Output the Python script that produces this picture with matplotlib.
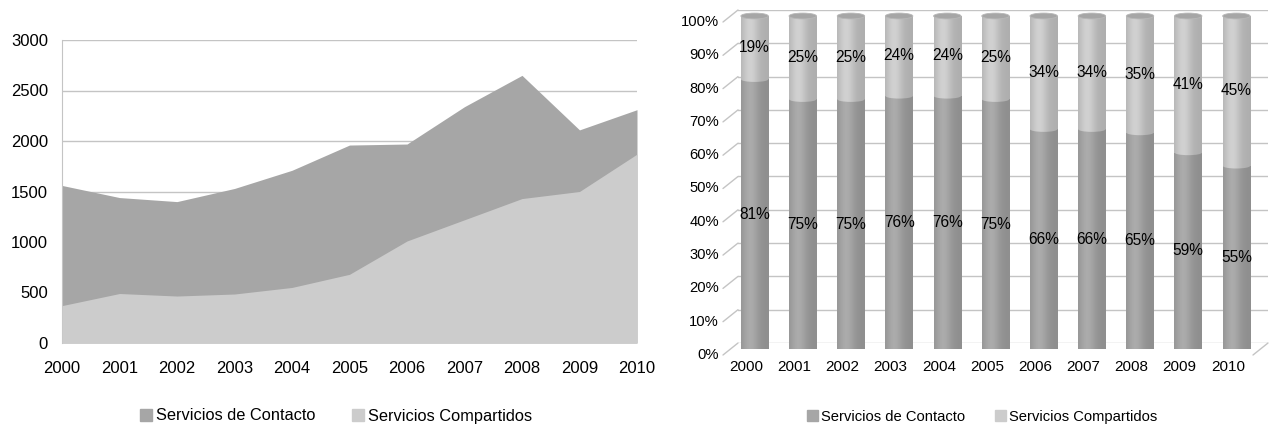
import numpy as np
import matplotlib
matplotlib.use("Agg")
import matplotlib.pyplot as plt
import matplotlib.colors as mcolors
from matplotlib.patches import Ellipse, Patch
from matplotlib.transforms import ScaledTranslation

plt.rcParams['font.family'] = ['Liberation Sans', 'DejaVu Sans']

# ---- data ----
years = ['2000', '2001', '2002', '2003', '2004', '2005',
         '2006', '2007', '2008', '2009', '2010']
contacto = [1560, 1440, 1400, 1530, 1710, 1960, 1970, 2340, 2650, 2110, 2310]
compartidos = [370, 490, 465, 485, 550, 680, 1010, 1220, 1430, 1500, 1870]
pct_contacto = [81, 75, 75, 76, 76, 75, 66, 66, 65, 59, 55]
pct_compartidos = [19, 25, 25, 24, 24, 25, 34, 34, 35, 41, 45]
series_names = ['Servicios de Contacto', 'Servicios Compartidos']

DARK = '#a6a6a6'
LIGHT = '#cccccc'
GRID = '#c4c4c4'

DPI = 100
fig = plt.figure(figsize=(12.7, 4.25), dpi=DPI)
W, H = 1270, 425


def px_axes(left, top, right, bottom):
    return fig.add_axes([left / W, 1 - bottom / H, (right - left) / W, (bottom - top) / H])


# ---- left: overlapping area chart ----
ax1 = px_axes(62, 40, 637, 343)
x = np.arange(len(years))
ax1.fill_between(x, 0, contacto, color=DARK, lw=0, zorder=2)
ax1.fill_between(x, 0, compartidos, color=LIGHT, lw=0, zorder=3)
ax1.set_xlim(0, len(years) - 1)
ax1.set_ylim(0, 3000)
ax1.set_yticks(np.arange(0, 3001, 500))
ax1.set_xticks(x)
ax1.set_xticklabels(years)
ax1.grid(axis='y', color=GRID, lw=1, zorder=0)
ax1.set_axisbelow(True)
for s in ['top', 'right', 'bottom']:
    ax1.spines[s].set_visible(False)
ax1.spines['left'].set_color(GRID)
ax1.tick_params(length=0, labelsize=12, colors='#000000')
ax1.tick_params(axis='y', pad=10)
ax1.tick_params(axis='x', pad=13)

h1 = [Patch(color=DARK), Patch(color=LIGHT)]
fig.legend(h1, series_names, loc='center', bbox_to_anchor=(336 / W, 1 - 416 / H),
           ncol=2, frameon=False, fontsize=11.8, handlelength=0.75, handleheight=0.75,
           handletextpad=0.25, columnspacing=2.2, borderaxespad=0)

# ---- right: 100% stacked cylinder chart ----
ax2 = px_axes(738, 10, 1268, 343)
n = len(years)
ax2.set_xlim(-0.5, n - 0.5)
ax2.set_ylim(0, 1)
ax2.set_yticks(np.arange(0, 1.001, 0.1))
ax2.set_yticklabels([])
ax2.set_xticks([])
ax2.grid(axis='y', color=GRID, lw=1, zorder=0)
for s in ax2.spines.values():
    s.set_visible(False)
ax2.tick_params(length=0)

# front edge of the wall / floor (depth offset)
dx, dy = -15, -12
for yv in ax2.get_yticks():
    ax2.annotate('', xy=(0, yv), xycoords=('axes fraction', 'data'),
                 xytext=(dx, dy), textcoords='offset pixels',
                 arrowprops=dict(arrowstyle='-', color=GRID, lw=1, shrinkA=0, shrinkB=0))
    ax2.annotate(f'{int(round(yv * 100))}%', xy=(0, yv), xycoords=('axes fraction', 'data'),
                 xytext=(dx - 4, dy), textcoords='offset pixels',
                 ha='right', va='center', fontsize=10.6)
ax2.annotate('', xy=(1, 0), xycoords='axes fraction',
             xytext=(dx, dy), textcoords='offset pixels',
             arrowprops=dict(arrowstyle='-', color=GRID, lw=1, shrinkA=0, shrinkB=0))
for i, yr in enumerate(years):
    ax2.annotate(yr, xy=(i, 0), xycoords=('data', 'axes fraction'),
                 xytext=(-16, -24), textcoords='offset pixels',
                 ha='center', va='center', fontsize=11)

# cylinders sit halfway into the depth
tr = ax2.transData + ScaledTranslation(-7.5 / DPI, -6 / DPI, fig.dpi_scale_trans)


def shade(col, n_px=64):
    rgb = np.array(mcolors.to_rgb(col))
    t = np.linspace(0, 1, n_px)
    f = 0.85 + 0.17 * np.exp(-((t - 0.33) / 0.30) ** 2)
    return np.clip(rgb[None, :] * f[:, None], 0, 1)[None, :, :]


bw = 0.57
eh = 0.016
c_frac = np.array(pct_contacto) / 100.0
s_frac = np.array(pct_compartidos) / 100.0

bars_c = ax2.bar(x, c_frac, width=bw, bottom=0, color='none', lw=0, transform=tr)
bars_s = ax2.bar(x, s_frac, width=bw, bottom=c_frac, color='none', lw=0, transform=tr)


def fill_gradient(clip, xc, y0, y1, col, z):
    im = ax2.imshow(shade(col), extent=(xc - bw / 2, xc + bw / 2, y0 - eh, y1 + eh),
                    aspect='auto', transform=tr, zorder=z, interpolation='bilinear')
    im.set_clip_path(clip)
    return im


BAR_DARK = '#a8a8a8'
BAR_LIGHT = '#cdcdcd'
for i in range(n):
    pc, ps = bars_c[i], bars_s[i]
    top = c_frac[i] + s_frac[i]
    # bottom rounding of the lower segment
    e0 = Ellipse((x[i], 0), bw, eh, transform=tr, facecolor='none', lw=0)
    ax2.add_patch(e0)
    fill_gradient(e0, x[i], 0, 0, BAR_DARK, 2)
    fill_gradient(pc, x[i], 0, c_frac[i], BAR_DARK, 2)
    # upper segment with its rounded lower edge
    e1 = Ellipse((x[i], c_frac[i]), bw, eh, transform=tr, facecolor='none', lw=0)
    ax2.add_patch(e1)
    fill_gradient(e1, x[i], c_frac[i], c_frac[i], BAR_LIGHT, 3)
    fill_gradient(ps, x[i], c_frac[i], top, BAR_LIGHT, 3)
    # top cap
    ax2.add_patch(Ellipse((x[i], top), bw, eh * 1.1, transform=tr,
                          facecolor='#a6a6a6', edgecolor='#b8b8b8', lw=0.6, zorder=4))
    ax2.text(x[i], c_frac[i] / 2, f'{pct_contacto[i]}%', transform=tr,
             ha='center', va='center', fontsize=11.2, zorder=5)
    ax2.text(x[i], c_frac[i] + s_frac[i] / 2, f'{pct_compartidos[i]}%', transform=tr,
             ha='center', va='center', fontsize=11.2, zorder=5)

ax2.set_xlim(-0.5, n - 0.5)
ax2.set_ylim(0, 1)

fig.legend(h1, series_names, loc='center', bbox_to_anchor=(982 / W, 1 - 417 / H),
           ncol=2, frameon=False, fontsize=10.6, handlelength=0.75, handleheight=0.75,
           handletextpad=0.2, columnspacing=2.0, borderaxespad=0)

fig.savefig('out.png', dpi=DPI, facecolor='white')
